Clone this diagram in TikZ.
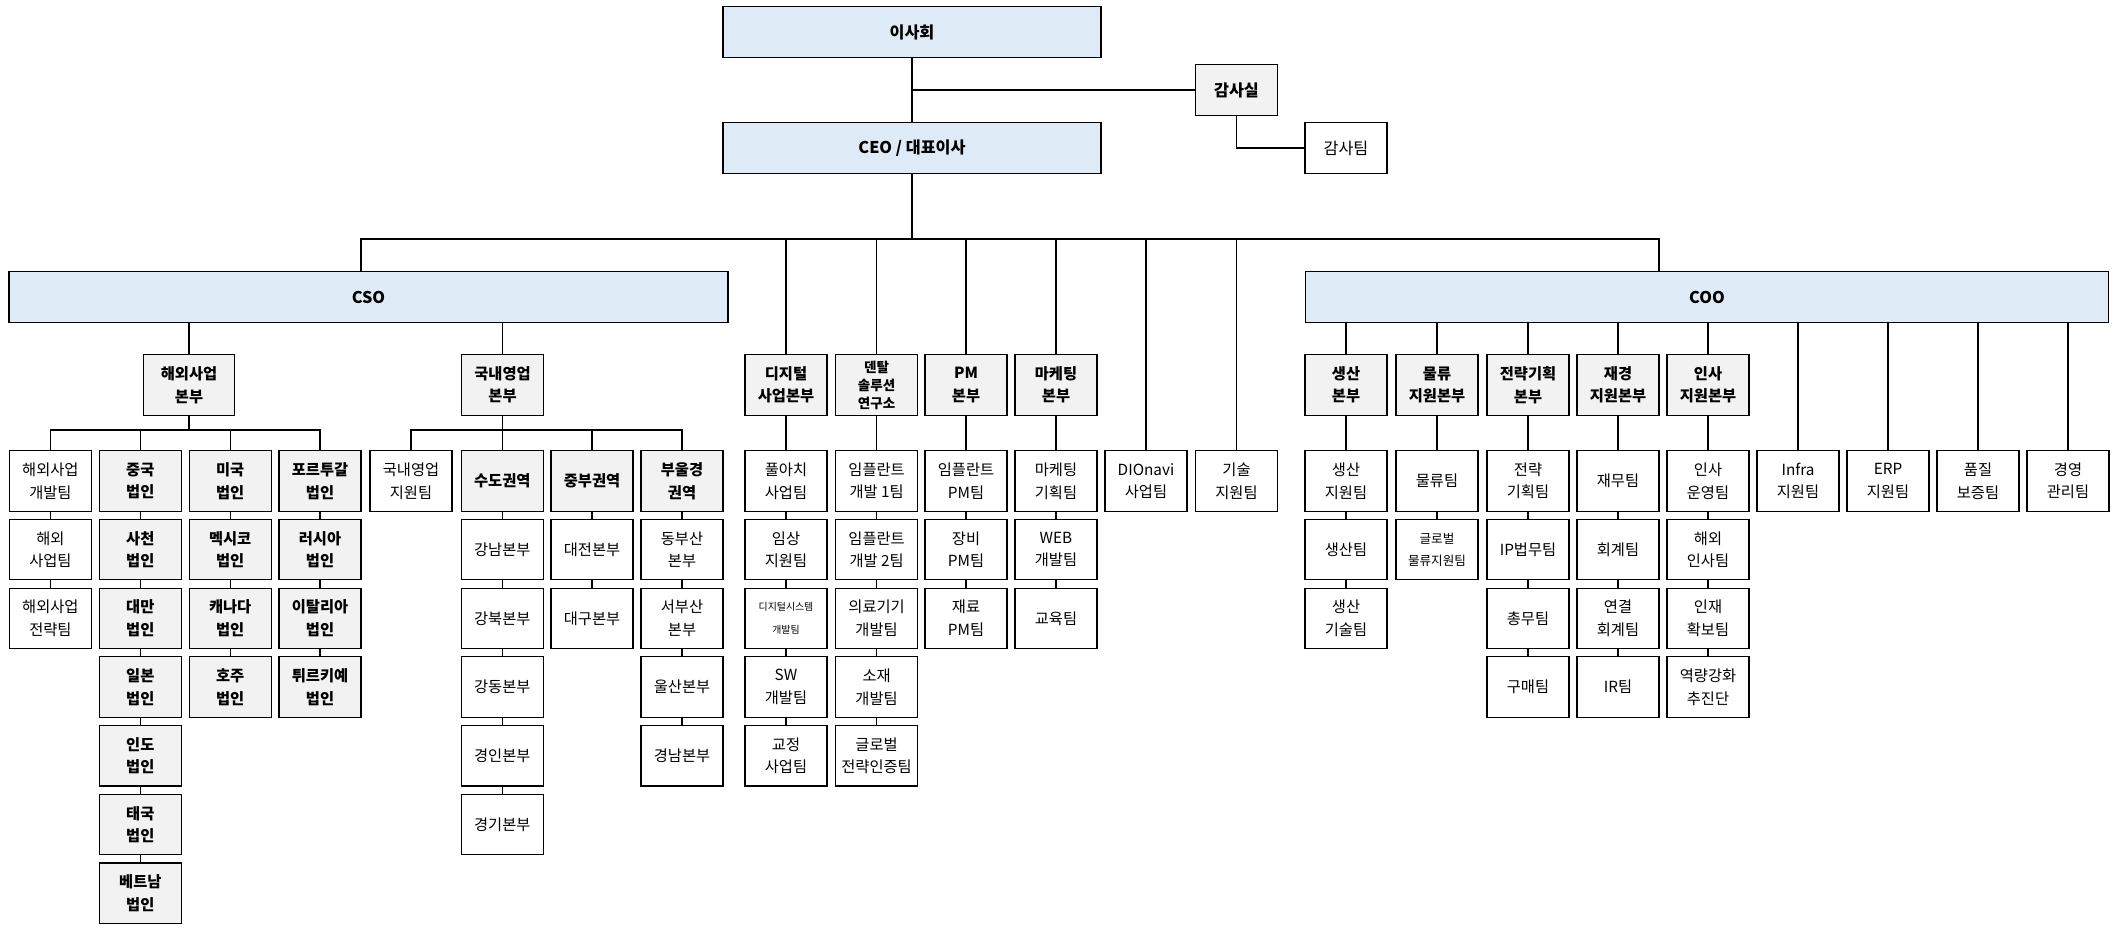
\documentclass[tikz,border=0pt]{standalone}
\usepackage{fontspec}
\setmainfont{Noto Sans CJK KR}
\definecolor{topblue}{HTML}{DEEBF7}
\definecolor{boxgray}{HTML}{F2F2F2}
\tikzset{
  base/.style={draw, line width=0.6pt, inner sep=0pt, align=center, minimum width=45.5pt, minimum height=33.5pt, font=\fontsize{8.5}{12.5}\selectfont},
  wbox/.style={base, fill=white},
  gbox/.style={base, fill=boxgray, font=\fontsize{8.5}{12.5}\selectfont\bfseries},
  tbox/.style={base, fill=topblue, minimum height=27.8pt, font=\fontsize{9}{12}\selectfont\bfseries},
  ln/.style={line width=0.6pt}
}
\newcommand\orgcol[5]{%
  \foreach \t [count=\i] in {#5}{%
    \pgfmathsetmacro\yy{481+68.7*(\i-1)}%
    \ifnum\i=1
      \node[#3] (#1-\i) at (#2,\yy) {\t};
    \else
      \node[#4] (#1-\i) at (#2,\yy) {\t};
      \pgfmathtruncatemacro\p{\i-1}%
      \draw[ln] (#1-\p) -- (#1-\i);
    \fi
  }%
}
\begin{document}
\begin{tikzpicture}[x=0.555pt,y=-0.555pt]
\useasboundingbox (0,0) rectangle (2119,932);
% top
\node[tbox, minimum width=209.8pt] (isa) at (912,32) {이사회};
\node[tbox, minimum width=209.8pt] (ceo) at (912,148) {CEO / 대표이사};
\node[gbox, minimum width=45.8pt, minimum height=27.8pt, font=\fontsize{9}{12}\selectfont\bfseries] (gamsa) at (1236.5,90) {감사실};
\node[wbox, minimum width=45.5pt, minimum height=27.8pt, font=\fontsize{9}{12}\selectfont] (gteam) at (1346,148) {감사팀};
\draw[ln] (isa) -- (ceo);
\coordinate (g1) at (912,90);
\draw[ln] (gamsa) -- (g1);
\draw[ln] (gamsa.south) |- (gteam.west);
% CSO / COO
\node[tbox, minimum width=399pt] (cso) at (368.5,297) {CSO};
\node[tbox, minimum width=446pt] (coo) at (1707,297) {COO};
\coordinate (tb) at (912,239);
\coordinate (csotop) at (361,272);
\coordinate (cootop) at (1659,272);
\draw[ln] (ceo) -- (tb);
\draw[ln] (csotop) |- (tb);
\draw[ln] (cootop) |- (tb);
% CSO divisions
\node[gbox, minimum width=50.3pt] (hwdiv) at (189,385) {해외사업\\본부};
\node[gbox, minimum width=46pt] (kndiv) at (502.5,385) {국내영업\\본부};
\draw[ln] (hwdiv) -- (hwdiv |- cso.south);
\draw[ln] (kndiv) -- (kndiv |- cso.south);
\orgcol{hA}{50.4}{wbox}{wbox}{{해외사업\\개발팀},{해외\\사업팀},{해외사업\\전략팀}}
\orgcol{hB}{140.3}{gbox}{gbox}{{중국\\법인},{사천\\법인},{대만\\법인},{일본\\법인},{인도\\법인},{태국\\법인},{베트남\\법인}}
\orgcol{hC}{230.2}{gbox}{gbox}{{미국\\법인},{멕시코\\법인},{캐나다\\법인},{호주\\법인}}
\orgcol{hD}{320}{gbox}{gbox}{{포르투갈\\법인},{러시아\\법인},{이탈리아\\법인},{튀르키예\\법인}}
\coordinate (hb) at (189,430);
\draw[ln] (hwdiv) -- (hb);
\foreach \c in {hA,hB,hC,hD} \draw[ln] (\c-1.north) |- (hb);
\orgcol{kA}{411}{wbox}{wbox}{{국내영업\\지원팀}}
\orgcol{kB}{502.3}{gbox}{wbox}{{수도권역},{강남본부},{강북본부},{강동본부},{경인본부},{경기본부}}
\orgcol{kC}{592}{gbox}{wbox}{{중부권역},{대전본부},{대구본부}}
\orgcol{kD}{682}{gbox}{wbox}{{부울경\\권역},{동부산\\본부},{서부산\\본부},{울산본부},{경남본부}}
\coordinate (kb) at (502.5,430);
\draw[ln] (kndiv) -- (kb);
\foreach \c in {kA,kB,kC,kD} \draw[ln] (\c-1.north) |- (kb);
% CEO direct divisions
\node[gbox] (dg) at (786,385) {디지털\\사업본부};
\node[gbox, font=\fontsize{7.5}{10}\selectfont\bfseries] (dt) at (876.6,385) {덴탈\\솔루션\\연구소};
\node[gbox] (pm) at (966,385) {PM\\본부};
\node[gbox] (mk) at (1056,385) {마케팅\\본부};
\orgcol{dgc}{786}{wbox}{wbox}{{풀아치\\사업팀},{임상\\지원팀},{\fontsize{5.5}{7}\selectfont 디지털시스템\\\fontsize{5.5}{7}\selectfont 개발팀},{SW\\개발팀},{교정\\사업팀}}
\orgcol{dtc}{876.6}{wbox}{wbox}{{임플란트\\개발 1팀},{임플란트\\개발 2팀},{의료기기\\개발팀},{소재\\개발팀},{글로벌\\전략인증팀}}
\orgcol{pmc}{966}{wbox}{wbox}{{임플란트\\PM팀},{장비\\PM팀},{재료\\PM팀}}
\orgcol{mkc}{1056}{wbox}{wbox}{{마케팅\\기획팀},{WEB\\개발팀},{교육팀}}
\orgcol{dio}{1146}{wbox}{wbox}{{DIOnavi\\사업팀}}
\orgcol{tec}{1236.5}{wbox}{wbox}{{기술\\지원팀}}
\foreach \d/\c in {dg/dgc,dt/dtc,pm/pmc,mk/mkc}{
  \draw[ln] (\d) -- (\d |- tb);
  \draw[ln] (\d) -- (\c-1);
}
\draw[ln] (dio-1) -- (dio-1 |- tb);
\draw[ln] (tec-1) -- (tec-1 |- tb);
% COO
\node[gbox] (sp) at (1346,385) {생산\\본부};
\node[gbox] (lg) at (1437,385) {물류\\지원본부};
\node[gbox] (st) at (1528,385) {전략기획\\본부};
\node[gbox] (fn) at (1618,385) {재경\\지원본부};
\node[gbox] (hr) at (1708,385) {인사\\지원본부};
\orgcol{spc}{1346}{wbox}{wbox}{{생산\\지원팀},{생산팀},{생산\\기술팀}}
\orgcol{lgc}{1437}{wbox}{wbox}{{물류팀},{\fontsize{7}{10}\selectfont 글로벌\\\fontsize{7}{10}\selectfont 물류지원팀}}
\orgcol{stc}{1528}{wbox}{wbox}{{전략\\기획팀},{IP법무팀},{총무팀},{구매팀}}
\orgcol{fnc}{1618}{wbox}{wbox}{{재무팀},{회계팀},{연결\\회계팀},{IR팀}}
\orgcol{hrc}{1708}{wbox}{wbox}{{인사\\운영팀},{해외\\인사팀},{인재\\확보팀},{역량강화\\추진단}}
\orgcol{inf}{1798}{wbox}{wbox}{{Infra\\지원팀}}
\orgcol{erp}{1888}{wbox}{wbox}{{ERP\\지원팀}}
\orgcol{qa}{1978}{wbox}{wbox}{{품질\\보증팀}}
\orgcol{mg}{2068}{wbox}{wbox}{{경영\\관리팀}}
\foreach \d/\c in {sp/spc,lg/lgc,st/stc,fn/fnc,hr/hrc}{
  \draw[ln] (\d) -- (\d |- coo.south);
  \draw[ln] (\d) -- (\c-1);
}
\foreach \c in {inf,erp,qa,mg} \draw[ln] (\c-1) -- (\c-1 |- coo.south);
\end{tikzpicture}
\end{document}
